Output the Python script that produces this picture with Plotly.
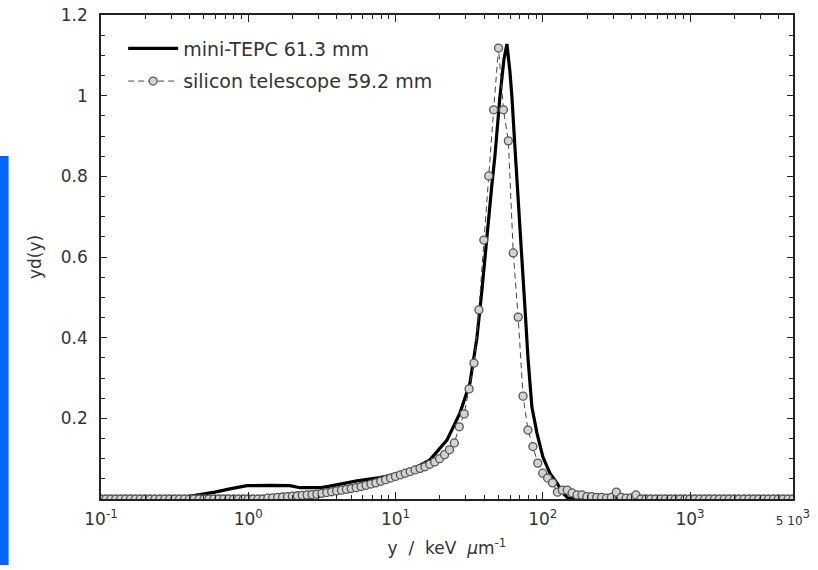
import numpy as np
import plotly.graph_objects as go

# ---------------- data ----------------
# mini-TEPC (solid line): lineal energy y [keV/um] and yd(y)
tepc_y = [0.1, 0.25, 0.344, 0.47, 0.594, 0.751, 0.98, 1.404, 1.919, 2.244, 3.068, 3.587,
          5.47, 7.84, 10.71, 13.13, 17.12, 22.34, 27.36, 32.0, 35.7, 38.61, 40.46, 42.4,
          45.13, 47.3, 51.15, 54.45, 57.06, 59.8, 61.7, 64.66, 67.76, 69.91, 72.13, 74.41,
          76.78, 79.22, 84.35, 91.19, 100.2, 111.7, 124.6, 136.9, 148.1, 5000]
tepc_yd = [0.0, 0.0, 0.003, 0.010, 0.017, 0.025, 0.033, 0.034, 0.033, 0.028, 0.028, 0.032,
           0.045, 0.053, 0.064, 0.074, 0.097, 0.146, 0.213, 0.287, 0.400, 0.518, 0.600, 0.684,
           0.780, 0.850, 0.997, 1.090, 1.128, 1.060, 0.997, 0.873, 0.760, 0.684, 0.600, 0.518,
           0.436, 0.352, 0.228, 0.164, 0.104, 0.064, 0.040, 0.015, 0.002, 0.0]

# silicon telescope (circles): log-spaced bins from 0.1 to 5000 keV/um
si_n_bins = 142
si_y = np.logspace(-1, np.log10(5000), si_n_bins)
si_yd = ([0.0] * 34 +
         [0.002, 0.003, 0.004, 0.005, 0.006, 0.007, 0.008, 0.009, 0.010, 0.011,
          0.012, 0.014, 0.016, 0.018, 0.020, 0.022, 0.024, 0.026, 0.028, 0.031,
          0.034, 0.037, 0.040, 0.044, 0.048, 0.052, 0.056, 0.060, 0.064, 0.068,
          0.072, 0.076, 0.080, 0.086, 0.092, 0.100, 0.110, 0.122, 0.139, 0.179,
          0.211, 0.273, 0.337, 0.469, 0.642, 0.801, 0.965, 1.118, 0.965, 0.888,
          0.610, 0.451, 0.255, 0.171, 0.130, 0.089, 0.064, 0.052, 0.040, 0.017,
          0.022, 0.022, 0.015, 0.010, 0.010, 0.006, 0.006, 0.004, 0.004, 0.002,
          0.004, 0.017, 0.004, 0.002, 0.003, 0.010] +
         [0.0] * 32)

x_tickvals = [0.1, 1, 10, 100, 1000, 5000]
x_ticktext = ["10<sup>-1</sup>", "10<sup>0</sup>", "10<sup>1</sup>", "10<sup>2</sup>",
              "10<sup>3</sup>", "<span style='font-size:12px'>5 10</span><sup>3</sup>"]
x_minor = [m * 10 ** e for e in range(-1, 3) for m in range(2, 10)] + [2000, 3000, 4000]
y_tickvals = [0.2, 0.4, 0.6, 0.8, 1.0, 1.2]
y_ticktext = ["0.2", "0.4", "0.6", "0.8", "1", "1.2"]

labels = ["mini-TEPC 61.3 mm", "silicon telescope 59.2 mm"]

# ---------------- figure ----------------
FONT = "DejaVu Sans"
TXT = "#333333"

fig = go.Figure()
fig.add_trace(go.Scatter(
    x=tepc_y, y=tepc_yd, mode="lines", name=labels[0], legendgroup="a",
    line=dict(color="black", width=3.2)))
fig.add_trace(go.Scatter(
    x=si_y, y=si_yd, mode="lines+markers", name=labels[1], legendgroup="b",
    line=dict(color="#444444", width=1, dash="6px,4px"),
    marker=dict(symbol="circle", size=8, color="#d2d2d2",
                line=dict(color="#555555", width=1.3))))

fig.add_shape(type="rect", xref="paper", yref="paper",
              x0=-0.146, x1=-0.1335, y0=-0.1364, y1=0.7087,
              fillcolor="#0066ff", line=dict(width=0), layer="above")

fig.update_xaxes(
    type="log", range=[-1, np.log10(5000)], automargin=False,
    tickmode="array", tickvals=x_tickvals, ticktext=x_ticktext,
    ticks="inside", ticklen=7, tickwidth=1.2, tickcolor="#222",
    minor=dict(tickmode="array", tickvals=x_minor, ticks="inside", ticklen=4,
               tickwidth=1, tickcolor="#222"),
    showline=True, linecolor="#222", linewidth=1.5, mirror="allticks",
    showgrid=False, zeroline=False, ticklabelstandoff=4,
    tickfont=dict(family=FONT, size=17, color=TXT),
    title=dict(text="y  /  keV  <i>μ</i>m<sup>-1</sup>", font=dict(family=FONT, size=17, color=TXT),
               standoff=14),
)
fig.update_yaxes(
    range=[0, 1.2], automargin=False,
    tickmode="array", tickvals=y_tickvals, ticktext=y_ticktext,
    ticks="inside", ticklen=6, tickwidth=1.2, tickcolor="#222",
    minor=dict(dtick=0.05, tick0=0, ticks="inside", ticklen=4, tickwidth=1, tickcolor="#222"),
    showline=True, linecolor="#222", linewidth=1.5, mirror="allticks",
    showgrid=False, zeroline=False, ticklabelstandoff=8,
    tickfont=dict(family=FONT, size=17, color=TXT),
    title=dict(text="yd(y)", font=dict(family=FONT, size=17, color=TXT), standoff=15),
)

fig.update_layout(
    width=818, height=570,
    margin=dict(l=101, r=25, t=15, b=71),
    paper_bgcolor="white", plot_bgcolor="white",
    showlegend=True,
    legend=dict(x=0.032, y=0.97, xanchor="left", yanchor="top",
                font=dict(family=FONT, size=19, color=TXT), itemwidth=50,
                bgcolor="rgba(0,0,0,0)", tracegroupgap=5),
)

fig.write_html("out.html", config={"displayModeBar": False},
               post_script="document.body.style.margin='0px';")
